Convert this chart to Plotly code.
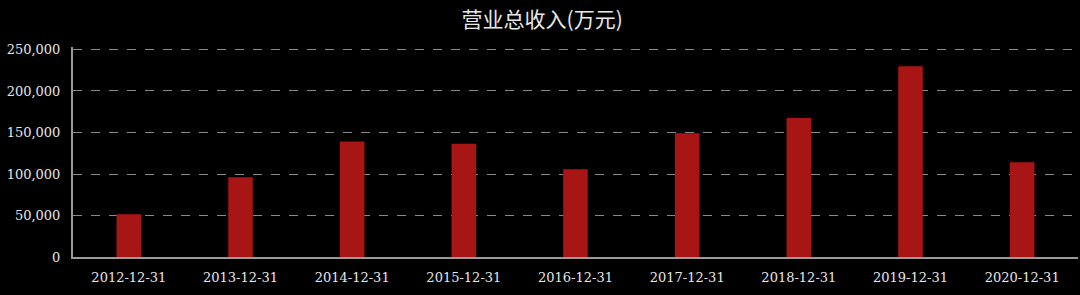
import plotly.graph_objects as go

categories = ["2012-12-31", "2013-12-31", "2014-12-31", "2015-12-31", "2016-12-31",
              "2017-12-31", "2018-12-31", "2019-12-31", "2020-12-31"]
revenue = [51600, 96000, 139100, 136300, 105700, 149200, 167400, 229800, 114100]
y_ticks = [0, 50000, 100000, 150000, 200000, 250000]
title_text = "营业总收入(万元)"

fig = go.Figure(go.Bar(x=categories, y=revenue, marker=dict(color="#a71515", line=dict(width=0)),
                       width=0.22))

fig.update_layout(
    width=1080, height=295,
    margin=dict(l=73, r=2, t=47, b=38),
    paper_bgcolor="#000000", plot_bgcolor="#000000",
    title=dict(text=title_text, x=0.502, xanchor="center", y=0.935, yanchor="middle",
               font=dict(family="Noto Sans CJK SC", size=21, color="#e8e8e8")),
    showlegend=False,
    font=dict(family="DejaVu Serif, Liberation Serif, serif", size=13, color="#e6e6e6"),
)
fig.update_xaxes(type="category", showline=True, linecolor="#9a9a9a", linewidth=2,
                 showgrid=False, ticks="", tickfont=dict(size=13, color="#e6e6e6"),
                 ticklabelstandoff=7, zeroline=False)
fig.update_yaxes(range=[0, 253000], tickvals=y_ticks, tickformat=",d",
                 showline=True, linecolor="#9a9a9a", linewidth=2,
                 showgrid=True, gridcolor="#8a8a8a", griddash="dash", gridwidth=1,
                 zeroline=False, ticks="", ticklabelstandoff=8,
                 tickfont=dict(size=13, color="#e6e6e6"))

fig.write_html("out.html")
